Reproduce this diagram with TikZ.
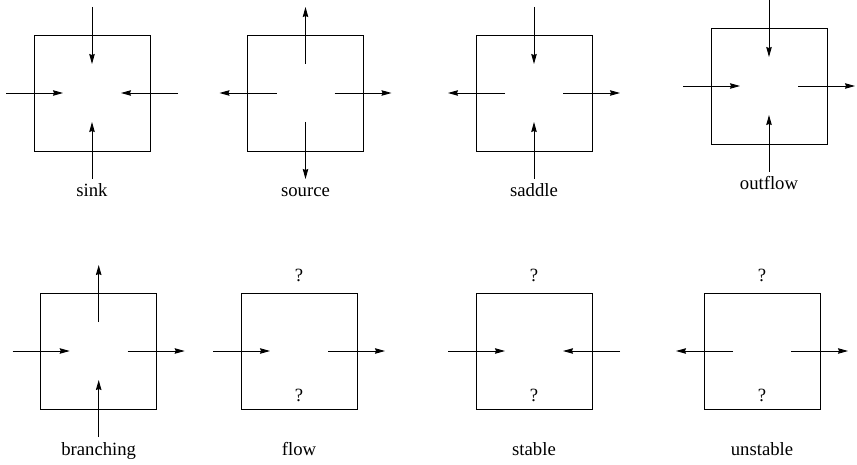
\documentclass[tikz,border=0pt]{standalone}
\usepackage{fontspec}
\setmainfont{Liberation Serif}
\usetikzlibrary{arrows.meta}
\newcommand\arrin[4]{% centre, tag, dx, dy
  \coordinate (#1-#2o) at ([shift={(86*#3,86*#4)}]#1);
  \coordinate (#1-#2i) at ([shift={(29*#3,29*#4)}]#1);
  \draw[flowarrow] (#1-#2o) -- (#1-#2i);}
\newcommand\arrout[4]{% centre, tag, dx, dy
  \coordinate (#1-#2o) at ([shift={(86*#3,86*#4)}]#1);
  \coordinate (#1-#2i) at ([shift={(29*#3,29*#4)}]#1);
  \draw[flowarrow] (#1-#2i) -- (#1-#2o);}
\begin{document}
\begin{tikzpicture}[x=1pt,y=-1pt,
  box/.style={draw, line width=0.9pt, minimum size=116pt, inner sep=0pt},
  flowarrow/.style={line width=0.9pt, -{Stealth[length=10pt,width=5.5pt,inset=1pt]}},
  lab/.style={font=\fontsize{18.7}{22}\selectfont, anchor=base, inner sep=0pt},
]
\useasboundingbox (0,0) rectangle (857,465);
% centres
\coordinate (sink) at (92,93);
\coordinate (source) at (305.5,93);
\coordinate (saddle) at (534,93);
\coordinate (outflow) at (769,86);
\coordinate (branching) at (98.7,351);
\coordinate (flow) at (299,351);
\coordinate (stable) at (534,351);
\coordinate (unstable) at (762,351);
% boxes and labels
\foreach \c in {sink,source,saddle,outflow,branching,flow,stable,unstable}{
  \node[box] (\c-box) at (\c) {};
  \node[lab] (\c-lab) at ([shift={(0,104)}]\c) {\c};
}
% question marks
\foreach \c in {flow,stable,unstable}{
  \node[lab] (\c-qt) at ([shift={(0,-69)}]\c) {?};
  \node[lab] (\c-qb) at ([shift={(0,50)}]\c) {?};
}
% sink
\arrin{sink}{L}{-1}{0}\arrin{sink}{R}{1}{0}\arrin{sink}{T}{0}{-1}\arrin{sink}{B}{0}{1}
% source
\arrout{source}{L}{-1}{0}\arrout{source}{R}{1}{0}\arrout{source}{T}{0}{-1}\arrout{source}{B}{0}{1}
% saddle
\arrout{saddle}{L}{-1}{0}\arrout{saddle}{R}{1}{0}\arrin{saddle}{T}{0}{-1}\arrin{saddle}{B}{0}{1}
% outflow
\arrin{outflow}{L}{-1}{0}\arrout{outflow}{R}{1}{0}\arrin{outflow}{T}{0}{-1}\arrin{outflow}{B}{0}{1}
% branching
\arrin{branching}{L}{-1}{0}\arrout{branching}{R}{1}{0}\arrout{branching}{T}{0}{-1}\arrin{branching}{B}{0}{1}
% flow
\arrin{flow}{L}{-1}{0}\arrout{flow}{R}{1}{0}
% stable
\arrin{stable}{L}{-1}{0}\arrin{stable}{R}{1}{0}
% unstable
\arrout{unstable}{L}{-1}{0}\arrout{unstable}{R}{1}{0}
\end{tikzpicture}
\end{document}
